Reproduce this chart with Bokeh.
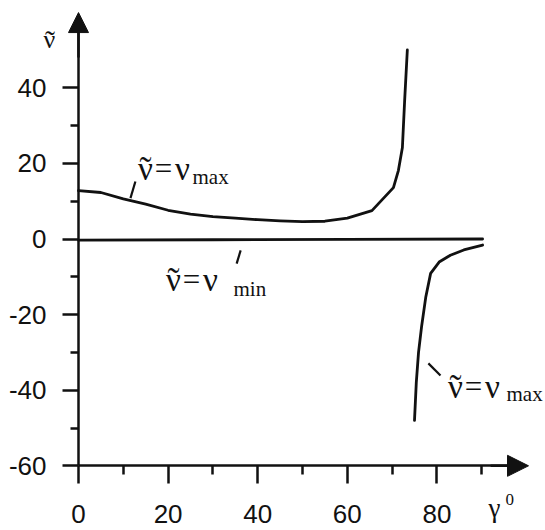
from bokeh.plotting import figure
from bokeh.models import Range1d, FixedTicker, Arrow, NormalHead, Label
from bokeh.embed import file_html
from bokeh.resources import INLINE

# ---- data ----
gamma_upper = [0, 5, 10, 15, 20, 25, 30, 35, 40, 45, 50, 55, 60, 65.5, 70.3, 71.4, 72.3, 72.8, 73.4]
nu_upper = [12.8, 12.3, 10.6, 9.2, 7.6, 6.6, 5.9, 5.5, 5.1, 4.8, 4.6, 4.7, 5.5, 7.5, 13.6, 18.1, 24.2, 36.6, 50.0]

gamma_min = [0, 30, 60, 90.2]
nu_min = [-0.3, -0.2, -0.1, 0.0]

gamma_lower = [75.0, 75.4, 75.9, 76.6, 77.5, 78.6, 80.5, 83.0, 86.0, 90.2]
nu_lower = [-48.0, -38.0, -30.0, -23.0, -15.5, -9.1, -6.1, -4.3, -2.9, -1.6]

x_major = [0, 20, 40, 60, 80]
x_minor = [10, 30, 50, 70, 90]
y_major = [-60, -40, -20, 0, 20, 40]
y_minor = [-50, -30, -10, 10, 30]
y_labels = {-60: "-60", -40: "-40", -20: "-20", 0: "0", 20: "20", 40: "40"}

# ---- figure ----
W, H = 545, 530
x0_px, y0_px = 78, 238.5      # pixel position of data origin
sx, sy = 4.48, 3.78           # px per unit
p = figure(width=W, height=H, output_backend="svg", toolbar_location=None,
           x_range=Range1d(-x0_px / sx, (W - x0_px) / sx),
           y_range=Range1d(-(H - y0_px) / sy, y0_px / sy),
           min_border=0, min_border_left=0, min_border_right=0,
           min_border_top=0, min_border_bottom=0)
p.outline_line_color = None
p.grid.visible = False
p.background_fill_color = "white"

ink = "#111111"
for ax in (p.xaxis[0], p.yaxis[0]):
    ax.axis_line_width = 2.5
    ax.axis_line_color = ink
    ax.major_tick_line_width = 2.5
    ax.minor_tick_line_width = 2.5
    ax.major_tick_line_color = ink
    ax.minor_tick_line_color = ink
    ax.major_tick_in = 0
    ax.minor_tick_in = 0
    ax.major_label_text_font = "Liberation Sans"
    ax.major_label_text_font_size = "26px"
    ax.major_label_text_color = ink

p.xaxis.fixed_location = -60
p.yaxis.fixed_location = 0
p.xaxis.bounds = (0, 96)
p.yaxis.bounds = (-60, 55)
p.xaxis.ticker = FixedTicker(ticks=x_major, minor_ticks=x_minor)
p.yaxis.ticker = FixedTicker(ticks=y_major, minor_ticks=y_minor)
p.yaxis.major_label_overrides = y_labels
p.xaxis.major_tick_out = 18
p.xaxis.minor_tick_out = 9
p.yaxis.major_tick_out = 16
p.yaxis.minor_tick_out = 8
p.xaxis.major_label_standoff = 21
p.yaxis.major_label_standoff = 16

# arrows on the axes
p.add_layout(Arrow(end=NormalHead(size=20, fill_color=ink, line_color=ink, line_width=1),
                   x_start=0, y_start=48, x_end=0, y_end=59.9,
                   line_color=ink, line_width=2.5))
p.add_layout(Arrow(end=NormalHead(size=21, fill_color=ink, line_color=ink, line_width=1),
                   x_start=92, y_start=-60, x_end=100.45, y_end=-60,
                   line_color=ink, line_width=2.5))

# curves
p.line(gamma_upper, nu_upper, line_width=2.8, line_color=ink, line_join="round", line_cap="round")
p.line(gamma_min, nu_min, line_width=2.8, line_color=ink, line_cap="round")
p.line(gamma_lower, nu_lower, line_width=2.8, line_color=ink, line_join="round", line_cap="round")

# leader lines
p.segment(x0=[12.7, 36.2, 78.1], y0=[15.2, -3.0, -32.9],
          x1=[11.6, 35.3, 80.8], y1=[10.8, -6.5, -36.1],
          line_width=2.2, line_color=ink)

serif = "Liberation Serif"
def px(X):
    return (X - x0_px) / sx
def py(Y):
    return (y0_px - Y) / sy

def lab(X, Y, t, size, align="left", font=serif, style="normal"):
    p.add_layout(Label(x=px(X), y=py(Y), text=t, text_font=font, text_font_size=size,
                       text_color=ink, text_align=align, text_baseline="alphabetic",
                       text_font_style=style))

def nu_label(X, Y, sub, subX, subY):
    lab(X + 8, Y, "\u03bd", "33px", align="center")
    lab(X + 8, Y + 1, "\u02dc", "36px", align="center")
    lab(X + 26, Y, "=", "31px", align="center")
    lab(X + 45, Y, "\u03bd", "33px", align="center")
    lab(subX, subY, sub, "21px")

nu_label(137, 168, "max", 192, 176)
nu_label(165, 279, "min", 233, 288)
nu_label(447, 386, "max", 506, 393)

# axis titles
lab(43, 39, "\u03bd", "26px")
lab(49.5, 40, "\u02dc", "30px", align="center")
lab(488, 507, "\u03b3", "27px")
lab(505, 499, "0", "17px")

open("out.html", "w").write(file_html(p, INLINE))
